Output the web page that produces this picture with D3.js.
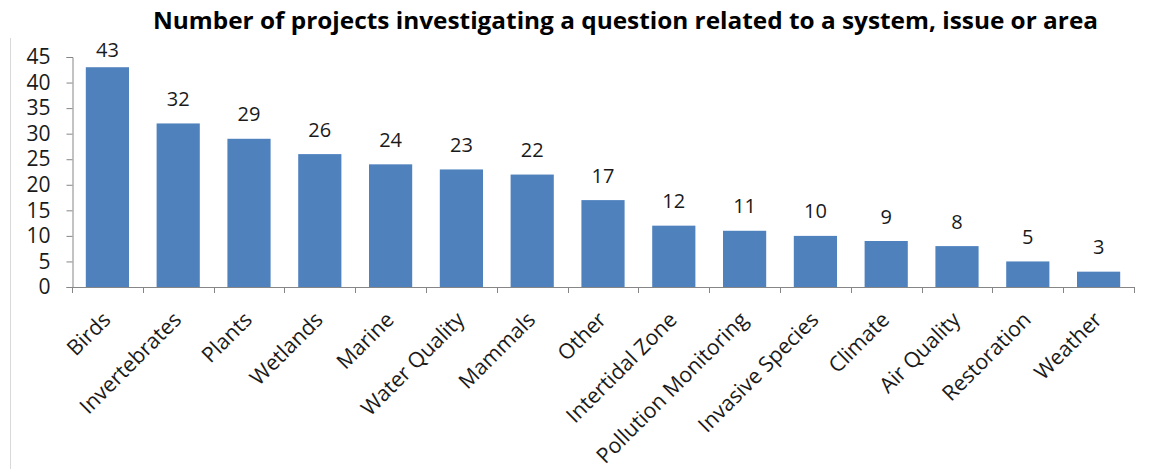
<!DOCTYPE html>
<html>
<head>
<meta charset="utf-8">
<script src="https://cdn.jsdelivr.net/npm/d3@7"></script>
<style>
  html, body { margin: 0; padding: 0; background: #fff; }
  svg { display: block; font-family: "Open Sans", "DejaVu Sans", sans-serif; }
</style>
</head>
<body>
<svg id="chart" width="1150" height="469"></svg>
<script>
// Project topics and how many projects address each
const categories = ["Birds", "Invertebrates", "Plants", "Wetlands", "Marine", "Water Quality",
  "Mammals", "Other", "Intertidal Zone", "Pollution Monitoring", "Invasive Species",
  "Climate", "Air Quality", "Restoration", "Weather"];
const projectCounts = [43, 32, 29, 26, 24, 23, 22, 17, 12, 11, 10, 9, 8, 5, 3];
const yTicks = [0, 5, 10, 15, 20, 25, 30, 35, 40, 45];
const titleText = "Number of projects investigating a question related to a system, issue or area";

const svg = d3.select("#chart");
const plot = { left: 72, right: 1134, top: 57, bottom: 287 };
const labelCeiling = 57;   // value labels stay inside the plot frame
const textColor = "#1a1a1a";
const axisColor = "#868686";

const x = d3.scaleBand()
  .domain(categories)
  .range([plot.left, plot.right])
  .paddingInner(0.39)
  .paddingOuter(0.195);

const y = d3.scaleLinear().domain([0, 45]).range([plot.bottom, plot.top]);

// Outer chart border (left edge)
svg.append("line")
  .attr("x1", 10.5).attr("x2", 10.5)
  .attr("y1", 38).attr("y2", 469)
  .attr("stroke", "#d9d9d9").attr("stroke-width", 1);

// Title
svg.append("text")
  .attr("x", 625.5).attr("y", 29)
  .attr("text-anchor", "middle")
  .attr("font-weight", "bold")
  .attr("font-size", 24)
  .attr("textLength", 945)
  .attr("lengthAdjust", "spacingAndGlyphs")
  .attr("fill", "#000")
  .text(titleText);

// Bars
svg.append("g").selectAll("rect")
  .data(categories)
  .join("rect")
  .attr("x", d => x(d))
  .attr("width", x.bandwidth())
  .attr("y", (d, i) => y(projectCounts[i]))
  .attr("height", (d, i) => y(0) - y(projectCounts[i]))
  .attr("fill", "#4f81bd");

// Value labels above each bar
svg.append("g").selectAll("text")
  .data(categories)
  .join("text")
  .attr("x", d => x(d) + x.bandwidth() / 2)
  .attr("y", (d, i) => Math.max(y(projectCounts[i]) - 17.5, labelCeiling))
  .attr("text-anchor", "middle")
  .attr("font-size", 20)
  .attr("fill", textColor)
  .text((d, i) => projectCounts[i]);

// Y axis
const yAxis = svg.append("g")
  .attr("transform", `translate(${plot.left + 0.5},0)`)
  .call(d3.axisLeft(y).tickValues(yTicks).tickSize(6).tickPadding(16));
yAxis.select(".domain").attr("stroke", axisColor);
yAxis.selectAll(".tick line").attr("stroke", axisColor);
yAxis.selectAll(".tick text")
  .attr("font-size", 21)
  .attr("font-family", "Open Sans, sans-serif")
  .attr("fill", textColor);

// X axis: baseline with ticks at category boundaries
const step = x.step();
const boundaries = d3.range(categories.length + 1).map(i => plot.left + i * step);
const xAxis = svg.append("g");
xAxis.append("line")
  .attr("x1", plot.left).attr("x2", plot.right)
  .attr("y1", plot.bottom + 0.5).attr("y2", plot.bottom + 0.5)
  .attr("stroke", axisColor);
xAxis.selectAll("line.tk")
  .data(boundaries)
  .join("line")
  .attr("class", "tk")
  .attr("x1", d => Math.round(d) + 0.5).attr("x2", d => Math.round(d) + 0.5)
  .attr("y1", plot.bottom).attr("y2", plot.bottom + 6)
  .attr("stroke", axisColor);

// Rotated category labels
xAxis.selectAll("text")
  .data(categories)
  .join("text")
  .attr("transform", d => `translate(${x(d) + x.bandwidth() / 2 + 4.5},${plot.bottom + 34}) rotate(-45)`)
  .attr("text-anchor", "end")
  .attr("font-size", 21.3)
  .attr("fill", textColor)
  .text(d => d);
</script>
</body>
</html>
